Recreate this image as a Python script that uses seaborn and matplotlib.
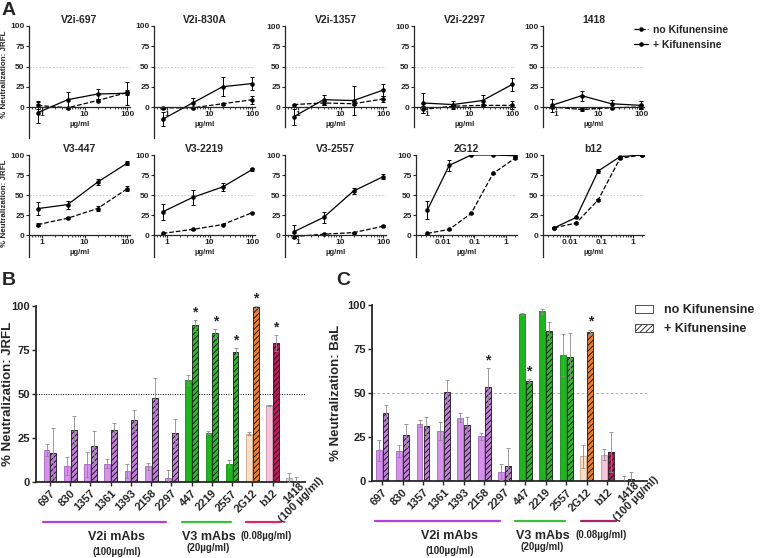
import numpy as np
import pandas as pd
import matplotlib
matplotlib.use('Agg')
import matplotlib.pyplot as plt
from matplotlib.lines import Line2D
from matplotlib.patches import Patch
import seaborn as sns

sns.set_style('ticks')
plt.rcParams['font.family'] = ['Liberation Sans', 'DejaVu Sans']
plt.rcParams['font.weight'] = 'bold'
plt.rcParams['hatch.linewidth'] = 0.7

# ---- panel A: dose-response curves ----
conc_mab = [0.8, 4, 20, 100]
conc_ctrl = [0.0032, 0.016, 0.08, 0.4, 2]

a_titles = ['V2i-697', 'V2i-830A', 'V2i-1357', 'V2i-2297', '1418',
            'V3-447', 'V3-2219', 'V3-2557', '2G12', 'b12']

a_nokif = {'V2i-697': [2, -1, 8, 18], 'V2i-830A': [-1, -1, 4, 9],
           'V2i-1357': [3, 5, 4, 10], 'V2i-2297': [-3, 1, 2, 2], '1418': [0, -3, -1, 0],
           'V3-447': [13, 21, 33, 58], 'V3-2219': [2, 7, 13, 28], 'V3-2557': [-2, 1, 3, 11],
           '2G12': [2, 7, 27, 77, 96], 'b12': [9, 15, 44, 96, 100]}
a_nokif_err = {'V2i-697': [5, 1, 2, 3], 'V2i-830A': [1, 1, 1, 5],
               'V2i-1357': [1, 2, 2, 4], 'V2i-2297': [4, 2, 2, 5], '1418': [1, 2, 1, 2],
               'V3-447': [2, 1, 3, 3], 'V3-2219': [1, 1, 1, 1], 'V3-2557': [2, 1, 1, 1],
               '2G12': [1, 1, 1, 1, 1], 'b12': [1, 1, 1, 1, 1]}
a_kif = {'V2i-697': [-7, 9, 16, 17], 'V2i-830A': [-15, 5, 25, 29],
         'V2i-1357': [-12, 9, 8, 21], 'V2i-2297': [5, 3, 8, 28], '1418': [2, 14, 4, 2],
         'V3-447': [33, 38, 66, 90], 'V3-2219': [29, 47, 60, 82], 'V3-2557': [4, 22, 55, 73],
         '2G12': [31, 87, 100, 100, 99], 'b12': [9, 22, 80, 98, 100]}
a_kif_err = {'V2i-697': [13, 9, 6, 14], 'V2i-830A': [9, 6, 12, 8],
             'V2i-1357': [10, 6, 18, 8], 'V2i-2297': [12, 5, 7, 8], '1418': [8, 6, 5, 5],
             'V3-447': [8, 5, 4, 2], 'V3-2219': [10, 9, 5, 2], 'V3-2557': [8, 7, 4, 3],
             '2G12': [11, 7, 0, 0, 1], 'b12': [1, 1, 3, 1, 1]}
a_ymin = {'V2i-697': -38, 'V2i-830A': -38, 'V2i-1357': -25, 'V2i-2297': -25, '1418': -25,
          'V3-447': -27, 'V3-2219': -27, 'V3-2557': -27, '2G12': -27, 'b12': -27}

# ---- panels B and C: bar charts ----
mabs = ['697', '830', '1357', '1361', '1393', '2158', '2297',
        '447', '2219', '2557', '2G12', 'b12', '1418']
b_nokif = [18, 9, 10, 10.5, 6, 9, 2, 58, 28, 10.5, 27.5, 43.5, 2.5]
b_nokif_err = [3.5, 5, 7, 2.5, 4, 2, 5, 3, 1, 2, 1, 0.5, 2.5]
b_kif = [16.5, 29.5, 20.5, 29.5, 35, 48, 28, 89, 84.5, 74, 99.5, 79, 0]
b_kif_err = [14, 8, 8.5, 4, 6, 11, 8, 3, 2.5, 2, 0.5, 4.5, 3]
b_stars = ['447', '2219', '2557', '2G12', 'b12']

c_nokif = [17.5, 17, 32.5, 28.5, 36, 25.5, 5, 95, 96.5, 71.5, 14, 15, 0]
c_nokif_err = [6, 3.5, 2, 5, 2.5, 2, 4.5, 0.5, 1.5, 12, 6.5, 3, 3]
c_kif = [38.5, 26, 31, 50.5, 32, 53.5, 8.5, 57, 85, 70.5, 84.5, 16.5, 1]
c_kif_err = [4.5, 6.5, 5.5, 7, 4.5, 10.5, 10.5, 1, 5.5, 13.5, 1.5, 11.5, 4]
c_stars = ['2158', '447', '2G12']

# no Kif face / no Kif edge / + Kif face, per mAb
grp_colors = ['#D592EA'] * 7 + ['#1FB51F'] * 3 + ['#FCDDC2', '#F7C3DA', '#DADADA']
grp_edges = ['#A565BE'] * 7 + ['#168A16'] * 3 + ['#C9A98C', '#C893AA', '#A8A8A8']
grp_kif = ['#C47EDD'] * 7 + ['#2DB82D'] * 3 + ['#F08030', '#C0185A', '#9A9A9A']

W, H = 760, 558
fig = plt.figure(figsize=(W / 100, H / 100), dpi=100)


def box(l, t, r, b):
    return [l / W, 1 - b / H, (r - l) / W, (b - t) / H]


def curve_panel(ax, name, conc, ctrl):
    ax.set_xscale('log')
    ax.axhline(50, color='#c0c0c0', lw=0.6, ls=(0, (2, 2)), zorder=0)
    sns.lineplot(x=conc, y=a_nokif[name], ax=ax, color='black', linestyle='--',
                 linewidth=0.9, marker='o', markersize=3.3, markeredgewidth=0, errorbar=None)
    sns.lineplot(x=conc, y=a_kif[name], ax=ax, color='black', linestyle='-',
                 linewidth=0.9, marker='o', markersize=3.3, markeredgewidth=0, errorbar=None)
    ax.errorbar(conc, a_nokif[name], yerr=a_nokif_err[name], fmt='none', ecolor='black',
                elinewidth=0.7, capsize=1.6, capthick=0.7)
    ax.errorbar(conc, a_kif[name], yerr=a_kif_err[name], fmt='none', ecolor='black',
                elinewidth=0.7, capsize=1.6, capthick=0.7)
    ymin = a_ymin[name]
    ax.set_ylim(ymin, 100)
    ax.set_yticks([0, 25, 50, 75, 100])
    if ctrl:
        ax.set_xlim(0.0014, 2.3)
        ax.set_xticks([0.01, 0.1, 1], ['0.01', '0.1', '1'])
    else:
        ax.set_xlim(0.5, 115)
        ax.set_xticks([1, 10, 100], ['1', '10', '100'])
    ax.xaxis.set_minor_locator(matplotlib.ticker.LogLocator(base=10, subs=np.arange(2, 10)))
    ax.xaxis.set_minor_formatter(matplotlib.ticker.NullFormatter())
    for s in ['top', 'right']:
        ax.spines[s].set_visible(False)
    ax.spines['bottom'].set_position(('data', 0))
    ax.spines['left'].set_bounds(ymin, 100)
    for s in ['left', 'bottom']:
        ax.spines[s].set_linewidth(0.9)
    ax.tick_params(axis='both', which='major', labelsize=6, length=2.2, width=0.8, pad=1)
    ax.tick_params(axis='x', which='minor', length=1.2, width=0.6)
    ax.set_title(name, fontsize=7.5, fontweight='bold', pad=2)
    ax.set_xlabel('\u00b5g/ml', fontsize=5.5, fontweight='bold', labelpad=1.5)
    ax.set_ylabel('')


a_left_top = [29, 154, 285, 414, 543]
a_left_bot = [29, 154, 285, 416, 543]
for i, name in enumerate(a_titles):
    if i < 5:
        left, t, y0 = a_left_top[i], 26, 107
    else:
        left, t, y0 = a_left_bot[i - 5], 155, 235
    bottom = y0 + (y0 - t) / 100 * (-a_ymin[name])
    ax = fig.add_axes(box(left, t, left + 101, bottom))
    ctrl = name in ('2G12', 'b12')
    curve_panel(ax, name, conc_ctrl if ctrl else conc_mab, ctrl)
    if i in (0, 5):
        ax.set_ylabel('% Neutralization: JRFL', fontsize=5.8, fontweight='bold')
        ymin = a_ymin[name]
        ax.yaxis.set_label_coords(-0.21, (40 - ymin) / (100 - ymin))

leg_a = [Line2D([0], [0], color='black', ls='--', lw=0.9, marker='o', ms=3.3, mew=0),
         Line2D([0], [0], color='black', ls='-', lw=0.9, marker='o', ms=3.3, mew=0)]
fig.legend(leg_a, ['no Kifunensine', '+ Kifunensine'], loc='upper left',
           bbox_to_anchor=(634 / W, 1 - 25 / H), frameon=False,
           prop={'weight': 'bold', 'size': 7.5}, handlelength=1.3, handletextpad=0.5,
           labelspacing=0.45, borderpad=0, borderaxespad=0)


def bar_panel(ax, nokif, nokif_err, kif, kif_err, stars, ylabel, xlim, dotted, line_c3):
    df = pd.DataFrame({'mAb': mabs * 2, 'value': nokif + kif,
                       'cond': ['no Kifunensine'] * len(mabs) + ['+ Kifunensine'] * len(mabs)})
    if dotted:
        ax.axhline(50, color='black', lw=0.7, ls=(0, (1, 1.5)), zorder=0)
    else:
        ax.axhline(50, color='#b0b0b0', lw=0.7, ls=(0, (3, 2)), zorder=0)
    sns.barplot(data=df, x='mAb', y='value', hue='cond', order=mabs,
                hue_order=['no Kifunensine', '+ Kifunensine'], width=0.68, gap=0.15,
                errorbar=None, legend=False, ax=ax)
    bars = sorted(ax.patches, key=lambda p: p.get_x())
    vals, errs, xs = [], [], []
    for i in range(len(mabs)):
        p0, p1 = bars[2 * i], bars[2 * i + 1]
        p0.set_facecolor(grp_colors[i])
        p0.set_edgecolor(grp_edges[i])
        p0.set_linewidth(0.6)
        p1.set_facecolor(grp_kif[i])
        p1.set_edgecolor('#1a1a1a')
        p1.set_hatch('//////')
        p1.set_linewidth(0.6)
        vals += [nokif[i], kif[i]]
        errs += [nokif_err[i], kif_err[i]]
        xs += [p0.get_x() + p0.get_width() / 2, p1.get_x() + p1.get_width() / 2]
    ax.errorbar(xs, vals, yerr=errs, fmt='none', ecolor='#8a8a8a', elinewidth=0.6,
                capsize=1.4, capthick=0.6, zorder=5)
    for s in stars:
        i = mabs.index(s)
        ax.text(xs[2 * i + 1], kif[i] + kif_err[i] + 0.5, '*', ha='center', va='bottom',
                fontsize=10, fontweight='bold', clip_on=False)
    ax.set_xlim(*xlim)
    ax.set_ylim(0, 100)
    ax.set_yticks([0, 25, 50, 75, 100])
    ax.set_xticks(range(len(mabs)))
    ax.set_xticklabels(mabs[:-1] + [''], rotation=45, ha='right', rotation_mode='anchor')
    ax.annotate('1418\n(100 \u00b5g/ml)', xy=(12, 0), xycoords=ax.get_xaxis_transform(),
                xytext=(3.4, -10.5), textcoords='offset points', rotation=45,
                ha='center', va='center', ma='center', fontsize=8, fontweight='bold',
                linespacing=0.95)
    for s in ['top', 'right']:
        ax.spines[s].set_visible(False)
    for s in ['left', 'bottom']:
        ax.spines[s].set_linewidth(1.3)
    ax.tick_params(axis='both', labelsize=8, length=3, width=1.0, pad=1.5)
    ax.set_xlabel('')
    ax.set_ylabel(ylabel, fontsize=9.5, fontweight='bold')
    tr = ax.get_xaxis_transform()
    ax.plot([-0.35, 5.75], [-0.225, -0.225], color='#B43FDA', lw=1.6, transform=tr, clip_on=False)
    ax.plot([6.5, 8.95], [-0.225, -0.225], color='#3CC03C', lw=1.6, transform=tr, clip_on=False)
    ax.plot([9.7, 11.43], [-0.225, -0.225], color=line_c3, lw=1.6, transform=tr, clip_on=False)
    ax.text(3.3, -0.31, 'V2i mAbs', transform=tr, ha='center', va='center', fontsize=9, fontweight='bold')
    ax.text(3.3, -0.395, '(100\u00b5g/ml)', transform=tr, ha='center', va='center', fontsize=7, fontweight='bold')
    ax.text(7.83, -0.31, 'V3 mAbs', transform=tr, ha='center', va='center', fontsize=9, fontweight='bold')
    ax.text(7.83, -0.375, '(20\u00b5g/ml)', transform=tr, ha='center', va='center', fontsize=7, fontweight='bold')
    ax.text(10.7, -0.305, '(0.08\u00b5g/ml)', transform=tr, ha='center', va='center', fontsize=7, fontweight='bold')


ax_b = fig.add_axes(box(36, 306, 305, 482))
bar_panel(ax_b, b_nokif, b_nokif_err, b_kif, b_kif_err, b_stars,
          '% Neutralization: JRFL', (-0.69, 12.6), True, '#D8266E')
ax_b.yaxis.set_label_coords(-0.083, 0.5)

ax_c = fig.add_axes(box(372, 305, 647, 481))
bar_panel(ax_c, c_nokif, c_nokif_err, c_kif, c_kif_err, c_stars,
          '% Neutralization: BaL', (-0.49, 12.94), False, '#A82468')
ax_c.yaxis.set_label_coords(-0.11, 0.5)

leg_bc = [Patch(facecolor='white', edgecolor='#333333', lw=0.6),
          Patch(facecolor='white', edgecolor='#333333', lw=0.6, hatch='//////')]
fig.legend(leg_bc, ['no Kifunensine', '+ Kifunensine'], loc='upper left',
           bbox_to_anchor=(635 / W, 1 - 304 / H), frameon=False,
           prop={'weight': 'bold', 'size': 9}, handlelength=1.45, handleheight=0.6,
           handletextpad=0.9, labelspacing=0.6, borderpad=0, borderaxespad=0)

fig.text(2 / W, 1 - 2 / H, 'A', fontsize=14, fontweight='bold', va='top', ha='left')
fig.text(2 / W, 1 - 272 / H, 'B', fontsize=14, fontweight='bold', va='top', ha='left')
fig.text(336 / W, 1 - 272 / H, 'C', fontsize=14, fontweight='bold', va='top', ha='left')

fig.savefig('out.png', dpi=100)
